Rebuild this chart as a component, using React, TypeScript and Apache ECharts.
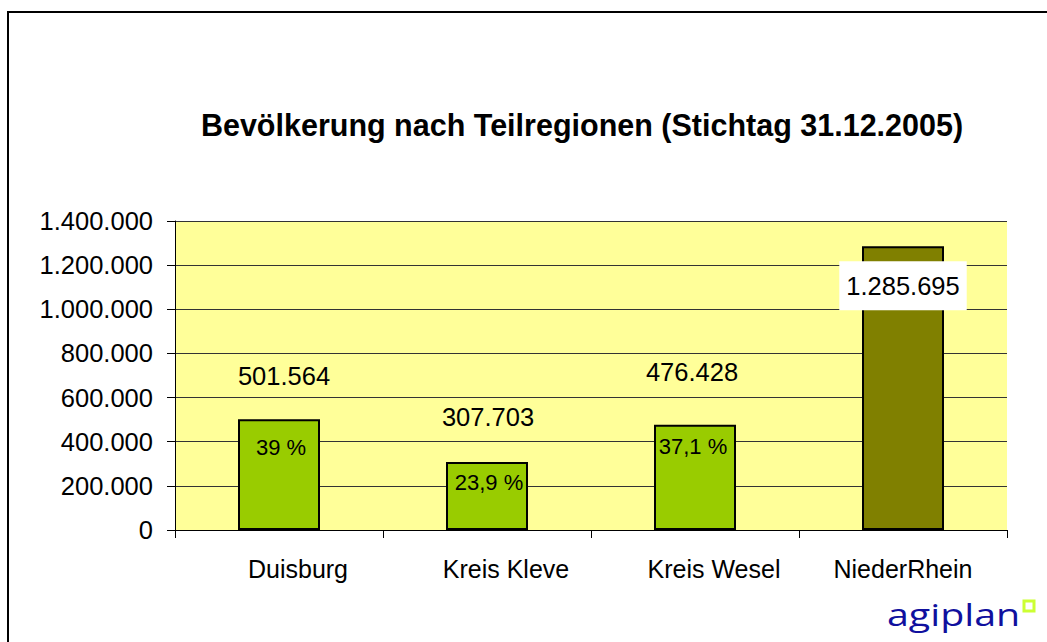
import React, { useEffect, useRef } from "react";
import * as echarts from "echarts";

const categories = ["Duisburg", "Kreis Kleve", "Kreis Wesel", "NiederRhein"];
const population = [501564, 307703, 476428, 1285695];
const shareLabels = ["39 %", "23,9 %", "37,1 %", ""];
const barColors = ["#99CC00", "#99CC00", "#99CC00", "#808000"];
const yTicks = { min: 0, max: 1400000, interval: 200000 };
const titleText = "Bevölkerung nach Teilregionen (Stichtag 31.12.2005)";

const valueLabelOffsets = [[5, -30], [1, -32], [-3, -40]];
const shareLabelDistances = [17, 9, 11];
const shareLabelDx = [2, 2, -2];
const categoryLabelShift = [38, 38, 38, 0];

const FONT = '"Liberation Sans", Arial, sans-serif';

function fmt(n: number): string {
  return String(n).replace(/\B(?=(\d{3})+(?!\d))/g, ".");
}

export default function App() {
  const ref = useRef<HTMLDivElement>(null);

  useEffect(() => {
    if (!ref.current) return;
    const chart = echarts.init(ref.current, null, { renderer: "svg" });

    const valueData = population.map((v, i) => {
      const item: any = {
        value: v,
        itemStyle: { color: barColors[i] },
      };
      if (i < 3) {
        item.label = { position: "top", distance: 0, offset: valueLabelOffsets[i] };
      } else {
        item.label = {
          position: "insideTop",
          distance: 15,
          backgroundColor: "#ffffff",
          padding: [12, 7, 11, 7],
        };
      }
      return item;
    });

    const shareData = population.map((v, i) => ({
      value: v,
      label: {
        show: shareLabels[i] !== "",
        distance: shareLabelDistances[i] ?? 10,
        offset: [shareLabelDx[i] ?? 0, 0],
      },
    }));

    const rich: any = {};
    categoryLabelShift.forEach((s, i) => {
      rich["c" + i] = {
        fontFamily: FONT,
        fontSize: 25,
        color: "#000",
        padding: [0, 0, 0, s],
      };
    });

    chart.setOption({
      animation: false,
      title: {
        text: titleText,
        left: 577,
        textAlign: "center",
        top: 104,
        textStyle: { fontFamily: FONT, fontWeight: "bold", fontSize: 30.5, color: "#000" },
      },
      grid: {
        left: 175,
        top: 221,
        right: 40,
        bottom: 112,
        show: true,
        backgroundColor: "#FFFF99",
        borderWidth: 0,
      },
      xAxis: {
        type: "category",
        data: categories,
        axisLine: { lineStyle: { color: "#000", width: 1 } },
        axisTick: { show: true, length: 8, interval: 0, lineStyle: { color: "#000" } },
        axisLabel: {
          interval: 0,
          hideOverlap: false,
          fontFamily: FONT,
          fontSize: 25,
          color: "#000",
          margin: 26,
          formatter: (v: string, i: number) => "{c" + i + "|" + v + "}",
          rich,
        },
      },
      yAxis: {
        type: "value",
        min: yTicks.min,
        max: yTicks.max,
        interval: yTicks.interval,
        axisLine: { show: true, lineStyle: { color: "#000", width: 1 } },
        axisTick: { show: true, length: 8, lineStyle: { color: "#000" } },
        axisLabel: {
          fontFamily: FONT,
          fontSize: 25.5,
          color: "#000",
          margin: 22,
          formatter: (v: number) => fmt(v),
        },
        splitLine: { show: true, lineStyle: { color: "#333", width: 1 } },
      },
      series: [
        {
          type: "bar",
          data: valueData,
          barWidth: 82,
          itemStyle: { borderColor: "#000", borderWidth: 2 },
          label: {
            show: true,
            fontFamily: FONT,
            fontSize: 25.5,
            color: "#000",
            formatter: (p: any) => fmt(p.value),
          },
        },
        {
          type: "bar",
          data: shareData,
          barWidth: 82,
          barGap: "-100%",
          itemStyle: { color: "rgba(0,0,0,0)", borderWidth: 0 },
          label: {
            show: true,
            position: "insideTop",
            fontFamily: FONT,
            fontSize: 22,
            color: "#000",
            formatter: (p: any) => shareLabels[p.dataIndex],
          },
          silent: true,
        },
      ],
      graphic: [
        {
          type: "rect",
          shape: { x: 8, y: 12, width: 1200, height: 800 },
          style: { fill: "none", stroke: "#000", lineWidth: 2 },
          silent: true,
        },
        {
          type: "text",
          x: 887,
          y: 598,
          style: {
            text: "agiplan",
            font: '31px "Open Sans", sans-serif',
            fill: "#10109E",
          },
          scaleX: 1.27,
        },
        {
          type: "rect",
          shape: { x: 1024, y: 601, width: 10, height: 10 },
          style: { fill: "none", stroke: "#CCFF33", lineWidth: 3 },
        },
      ],
    });

    return () => chart.dispose();
  }, []);

  return (
    <div
      ref={ref}
      style={{ position: "absolute", left: 0, top: 0, width: 1047, height: 642, background: "#fff" }}
    />
  );
}
